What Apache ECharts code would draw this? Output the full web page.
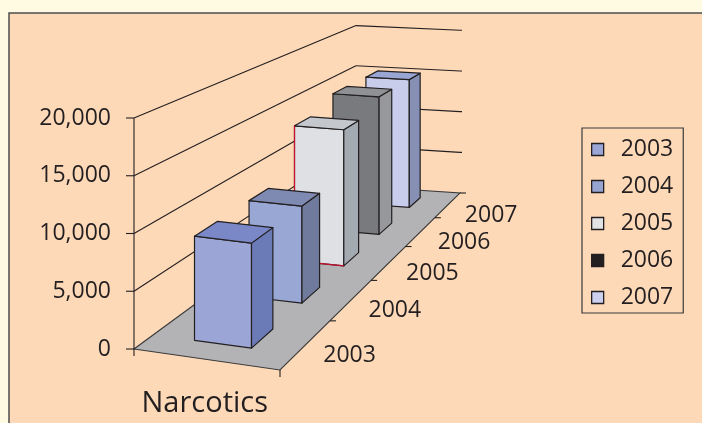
<!DOCTYPE html>
<html>
<head>
<meta charset="utf-8">
<script src="https://cdn.jsdelivr.net/npm/echarts@6/dist/echarts.min.js"></script>
<style>
  html, body { margin: 0; padding: 0; background: #fffbe2; }
  #chart { width: 702px; height: 423px; }
</style>
</head>
<body>
<div id="chart"></div>
<script>
const category = 'Narcotics'
const years = ['2003', '2004', '2005', '2006', '2007']
const counts = [9200, 9250, 14000, 15200, 15100]
const valueTicks = [0, 5000, 10000, 15000, 20000]
const valueMax = 20000

// face colours for each row, plus the legend swatch
const palette = [
  { front: '#9ba6d6', side: '#6b7bb8', top: '#7b88c8', key: '#9ba6d6' },
  { front: '#99a7d4', side: '#6f7a9c', top: '#7f8ab3', key: '#97a4d2' },
  { front: '#dfe0e3', side: '#a4aab2', top: '#c4c8cd', key: '#e1e2e4', edge: '#c8102e' },
  { front: '#797a7d', side: '#96989c', top: '#8f9195', key: '#231f20' },
  { front: '#c8cdeb', side: '#8590b4', top: '#99a5d2', key: '#cbd1ee' }
]
const ink = '#231f20'
const font = 'Open Sans'

// floor corners on screen: front-left, front-right, back-right, back-left
const floorCorners = [[134, 349], [280, 370], [460, 193], [356, 186]]
const frontHeight = 231 // px for valueMax at the front-left corner

function makeFloorMap(q) {
  const [x0, y0] = q[0], [x1, y1] = q[1], [x2, y2] = q[2], [x3, y3] = q[3]
  const dx1 = x1 - x2, dx2 = x3 - x2, dx3 = x0 - x1 + x2 - x3
  const dy1 = y1 - y2, dy2 = y3 - y2, dy3 = y0 - y1 + y2 - y3
  const den = dx1 * dy2 - dx2 * dy1
  const g = (dx3 * dy2 - dx2 * dy3) / den
  const h = (dx1 * dy3 - dx3 * dy1) / den
  const a = x1 - x0 + g * x1, b = x3 - x0 + h * x3
  const d = y1 - y0 + g * y1, e = y3 - y0 + h * y3
  return (u, v) => {
    const w = g * u + h * v + 1
    return [(a * u + b * v + x0) / w, (d * u + e * v + y0) / w]
  }
}
const floorAt = makeFloorMap(floorCorners)

// u: across the category, v: into depth (series rows), val: data value
function project(u, v, val) {
  const p = floorAt(u, v)
  const shrink = 1 - 0.02 * u + 0.44 * v
  return [p[0], p[1] - val / valueMax * frontHeight / shrink]
}

function line(a, b, color) {
  return {
    type: 'line',
    shape: { x1: a[0], y1: a[1], x2: b[0], y2: b[1] },
    style: { stroke: color || ink, lineWidth: 1.1 }
  }
}

function text(str, x, y, size, align, vAlign) {
  return {
    type: 'text', x, y,
    style: { text: str, fill: ink, fontSize: size, fontFamily: font, align, verticalAlign: vAlign || 'middle' }
  }
}

function renderBar(i, val) {
  const n = years.length
  const v0 = (i + 0.3) / n, v1 = (i + 0.7) / n
  const u0 = 0.3, u1 = 0.7
  const c = palette[i]
  const poly = (pts, fill) => ({
    type: 'polygon',
    shape: { points: pts },
    style: { fill, stroke: ink, lineWidth: 1.2, lineJoin: 'round' }
  })
  const children = [
    poly([project(u0, v0, 0), project(u1, v0, 0), project(u1, v0, val), project(u0, v0, val)], c.front),
    poly([project(u1, v0, 0), project(u1, v1, 0), project(u1, v1, val), project(u1, v0, val)], c.side),
    poly([project(u0, v0, val), project(u1, v0, val), project(u1, v1, val), project(u0, v1, val)], c.top)
  ]
  if (c.edge) {
    children.push({
      type: 'polyline',
      shape: { points: [project(u0, v0, val), project(u0, v0, 0), project(u1, v0, 0)] },
      style: { stroke: c.edge, lineWidth: 1.2, fill: null }
    })
  }
  return { type: 'group', children }
}

const barSeries = years.map((year, i) => ({
  type: 'custom',
  name: year,
  coordinateSystem: 'none',
  z: 20 - i,
  silent: true,
  itemStyle: { color: palette[i].key },
  data: [counts[i]],
  renderItem: (params, api) => renderBar(i, api.value(0))
}))

const floorSeries = {
  type: 'custom',
  name: 'floor',
  coordinateSystem: 'none',
  z: 3,
  silent: true,
  data: [0],
  renderItem: () => {
    const pts = [project(0, 0, 0), project(1, 0, 0), project(1, 1, 0), project(0, 1, 0)]
    const fl = pts[0], fr = pts[1]
    const mid = project(0.5, 0, 0)
    return {
      type: 'group',
      children: [
        { type: 'polygon', shape: { points: pts }, style: { fill: '#b3b3b6', stroke: '#3a3a3a', lineWidth: 1.1 } },
        line(fl, [fl[0], fl[1] + 7]),
        line(fr, [fr[0], fr[1] + 7]),
        text(category, mid[0], 404, 29, 'center')
      ]
    }
  }
}

const valueSeries = {
  type: 'custom',
  name: 'valueAxis',
  coordinateSystem: 'none',
  z: 4,
  silent: true,
  data: valueTicks,
  renderItem: (params, api) => {
    const val = api.value(0)
    const front = project(0, 0, val), back = project(0, 1, val), right = project(1, 1, val)
    const children = [
      line([front[0] - 8, front[1]], front),
      text(val.toLocaleString('en-US'), front[0] - 23, front[1], 23, 'right')
    ]
    if (val > 0) {
      children.push(line(front, back), line(back, right), line(right, [right[0] + 2, right[1]]))
    }
    if (params.dataIndex === 0) {
      children.push(line(project(0, 0, 0), project(0, 0, valueMax)))
    }
    return { type: 'group', children }
  }
}

const depthSeries = {
  type: 'custom',
  name: 'depthAxis',
  coordinateSystem: 'none',
  z: 4,
  silent: true,
  data: years.map((y, i) => i),
  renderItem: (params, api) => {
    const i = api.value(0)
    const n = years.length
    const edge = project(1, (i + 1) / n, 0)
    const mid = project(1, (i + 0.5) / n, 0)
    return {
      type: 'group',
      children: [
        line(edge, [edge[0] + 6, edge[1]]),
        text(years[i], mid[0] + 17, mid[1] + 11, 23, 'left')
      ]
    }
  }
}

const chart = echarts.init(document.getElementById('chart'))
chart.setOption({
  backgroundColor: '#fffbe2',
  animation: false,
  graphic: [{
    type: 'rect',
    z: 0,
    silent: true,
    shape: { x: 9, y: 13, width: 720, height: 440 },
    style: { fill: '#fdd9b8', stroke: '#4d4d4d', lineWidth: 1.5 }
  }],
  legend: {
    orient: 'vertical',
    left: 582,
    top: 128,
    data: years,
    icon: 'rect',
    itemWidth: 12,
    itemHeight: 12,
    itemGap: 14,
    padding: [10, 10, 4, 9],
    borderColor: '#3a3a3a',
    borderWidth: 1.2,
    selectedMode: false,
    itemStyle: { borderColor: ink, borderWidth: 1.3 },
    textStyle: { fontFamily: font, fontSize: 23, color: ink, padding: [0, 0, 0, 12] }
  },
  series: [floorSeries, valueSeries, depthSeries].concat(barSeries)
})
</script>
</body>
</html>
